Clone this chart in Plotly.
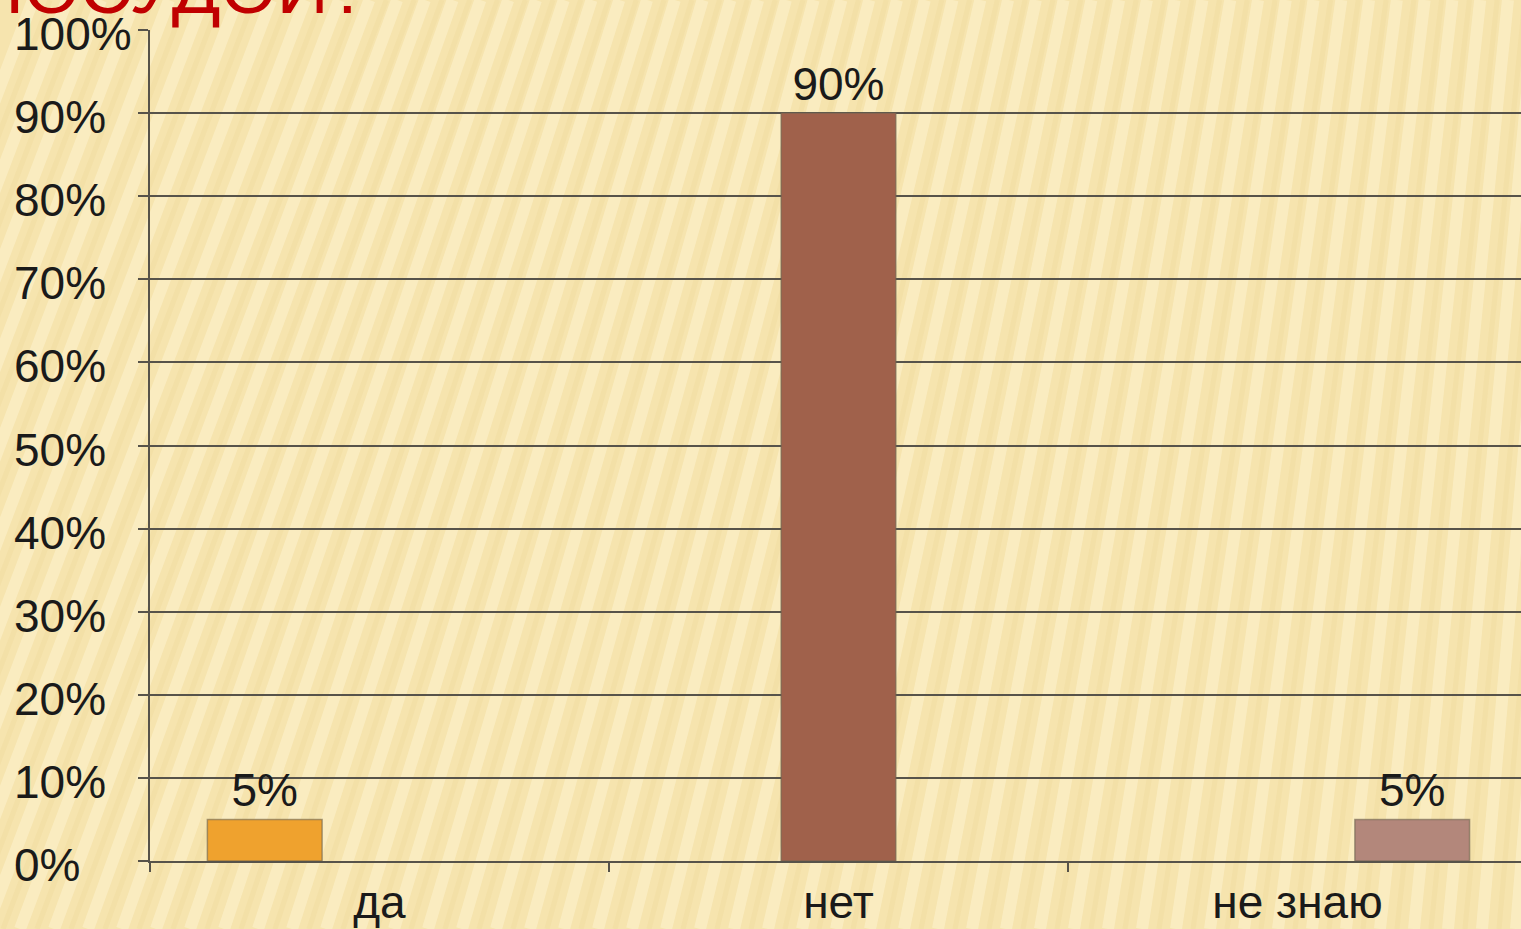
import plotly.graph_objects as go

categories = ["да", "нет", "не знаю"]
values = [5, 90, 5]
bar_colors = ["#EFA22E", "#A0614B", "#B3877B"]
y_ticks = [0, 10, 20, 30, 40, 50, 60, 70, 80, 90, 100]
y_tick_labels = [f"{v}%" for v in y_ticks]
title_text = "ПОСУДОЙ?"

FONT = "Liberation Sans, Arial, sans-serif"
FS = 46
W, H = 1521, 929
ML, MR, MT, MB = 150, 0, 30, 68
plot_w = W - ML - MR
plot_h = H - MT - MB

fig = go.Figure()
for i, (cat, val, col) in enumerate(zip(categories, values, bar_colors)):
    fig.add_trace(go.Bar(
        x=[cat], y=[val], name=cat, offsetgroup=str(i),
        marker=dict(color=col, line=dict(color="rgba(110,100,80,0.6)", width=1.5)),
        text=[f"{val}%"], textposition="outside", cliponaxis=False,
        textfont=dict(family=FONT, size=FS, color="#1a1a1a"),
    ))

# decorative background stripes (page-wide, below everything)
shapes = []
def px_to_paper_x(px):
    return (px - ML) / plot_w
def px_to_paper_y(py):
    return (H - MB - py) / plot_h
xb = -320
while xb < W + 60:
    t = min(max(xb / W, 0), 1)
    slope = 0.38 - 0.30 * t
    xt = xb + slope * H
    shapes.append(dict(
        type="line", xref="paper", yref="paper", layer="below",
        x0=px_to_paper_x(xb), y0=px_to_paper_y(H), x1=px_to_paper_x(xt), y1=px_to_paper_y(0),
        line=dict(color="rgba(255,246,215,0.45)", width=12),
    ))
    shapes.append(dict(
        type="line", xref="paper", yref="paper", layer="below",
        x0=px_to_paper_x(xb + 17), y0=px_to_paper_y(H), x1=px_to_paper_x(xt + 17), y1=px_to_paper_y(0),
        line=dict(color="rgba(225,200,130,0.15)", width=5),
    ))
    xb += 34

annotations = []
for v, lab in zip(y_ticks, y_tick_labels):
    annotations.append(dict(
        x=px_to_paper_x(12), xref="paper", y=v, yref="y",
        text=lab, showarrow=False, xanchor="left", yanchor="middle", yshift=-4,
        font=dict(family=FONT, size=FS, color="#1a1a1a"),
    ))
annotations.append(dict(
    x=px_to_paper_x(370), xref="paper", y=px_to_paper_y(30), yref="paper",
    text=title_text, showarrow=False, xanchor="right", yanchor="bottom",
    font=dict(family=FONT, size=72, color="#C00000"),
))

fig.update_layout(
    width=W, height=H,
    margin=dict(l=ML, r=MR, t=MT, b=MB),
    paper_bgcolor="#F6E4AE",
    plot_bgcolor="rgba(0,0,0,0)",
    barmode="group", bargap=0.25, bargroupgap=0,
    showlegend=False,
    annotations=annotations,
    shapes=shapes,
    xaxis=dict(
        categoryorder="array", categoryarray=categories,
        range=[-0.5, 2.487],
        showgrid=False, showline=True, linecolor="#57534a", linewidth=2,
        ticks="outside", tickson="boundaries", ticklen=9, tickwidth=2, tickcolor="#57534a",
        tickfont=dict(family=FONT, size=FS, color="#1a1a1a"),
        ticklabelstandoff=0,
    ),
    yaxis=dict(
        range=[0, 100], tickvals=y_ticks, showticklabels=False,
        showgrid=True, gridcolor="#57534a", gridwidth=2,
        showline=True, linecolor="#57534a", linewidth=2,
        ticks="outside", ticklen=10, tickwidth=2, tickcolor="#57534a",
        zeroline=False,
    ),
)

fig.write_html(
    "out.html",
    config={"displayModeBar": False},
    post_script="document.body.style.margin='0';document.body.style.background='#F6E4AE';",
)
